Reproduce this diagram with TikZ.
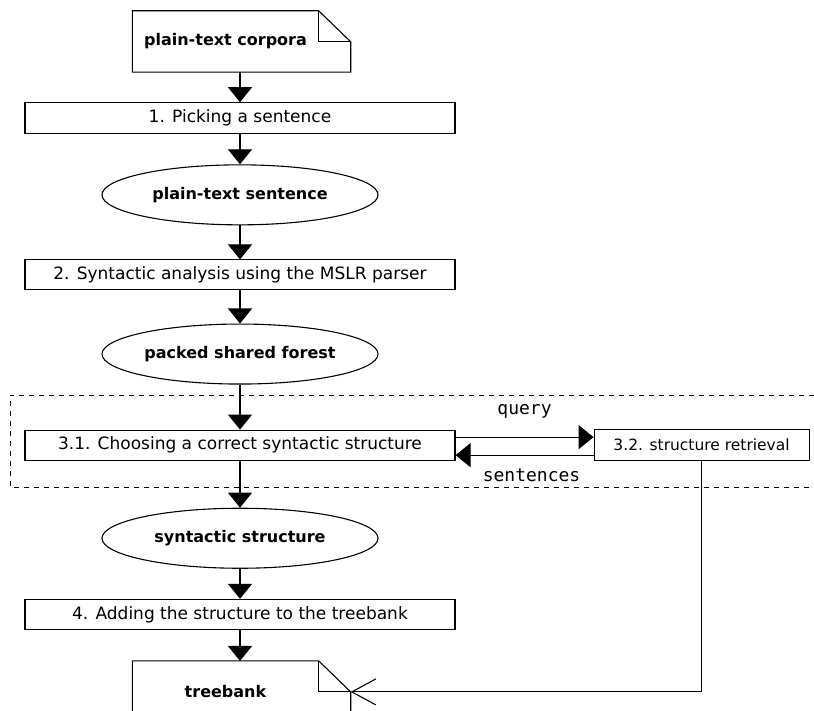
\documentclass[tikz,border=0pt]{standalone}
\usepackage{fontspec}
\setmainfont{DejaVu Sans}
\newfontfamily\monofont{DejaVu Sans Mono}
\usetikzlibrary{shapes, arrows.meta, positioning}

\begin{document}
\begin{tikzpicture}[
        x=1pt, y=-1pt,
        process/.style={rectangle, draw=black, line width=1.1pt, minimum width=430pt, minimum height=30pt, inner sep=0pt, font=\fontsize{17}{20}\selectfont},
        data/.style={ellipse, draw=black, line width=1.1pt, minimum width=276pt, minimum height=60pt, inner sep=0pt, font=\bfseries\fontsize{16}{19}\selectfont},
        docnode/.style={rectangle, minimum width=186pt, minimum height=61pt, inner sep=0pt, font=\bfseries\fontsize{16}{19}\selectfont},
        docline/.style={draw=black, line width=1.1pt, line join=miter},
        boundary/.style={dashed, dash pattern=on 5pt off 5pt, line width=1pt},
        link/.style={-{Triangle[length=15pt, width=24pt]}, line width=1.1pt},
        feed/.style={-{Straight Barb[length=24pt, width=26pt]}, line width=1.1pt},
        labeltext/.style={font=\monofont\fontsize{18}{21}\selectfont}
    ]
    \useasboundingbox (0,0) rectangle (814,711);

    % Nodes
    \node[docnode] (corpora) at (225.5,41.5) {plain-text corpora};
    \node[process, below=30pt of corpora, xshift=14.5pt, minimum height=31pt] (pick) {1. Picking a sentence};
    \node[data, below=30pt of pick] (sentence) {plain-text sentence};
    \node[process, below=34pt of sentence] (parse) {2. Syntactic analysis using the MSLR parser};
    \node[data, below=33pt of parse] (forest) {packed shared forest};
    \node[process, below=45pt of forest] (choose) {3.1. Choosing a correct syntactic structure};
    \node[process, right=138pt of choose, minimum width=215pt, minimum height=31pt, font=\fontsize{15.5}{18}\selectfont] (retrieval) {3.2. structure retrieval};
    \node[data, below=47pt of choose] (structure) {syntactic structure};
    \node[process, below=30pt of structure] (add) {4. Adding the structure to the treebank};
    \node[docnode, below=31pt of add, xshift=-14.5pt] (treebank) {treebank};

    % Document outlines
    \draw[docline] (corpora.north west) -- (corpora.north east) -- ([xshift=32pt, yshift=-31pt]corpora.north east) |- (corpora.south west) -- cycle;
    \draw[docline] (corpora.north east) |- ([xshift=32pt, yshift=-31pt]corpora.north east);
    \coordinate (tbcorner) at ([xshift=32pt, yshift=-31pt]treebank.north east);
    \draw[docline] (treebank.south west) -- (treebank.north west) -- (treebank.north east) -- (tbcorner) -- (tbcorner |- treebank.south);
    \draw[docline] (treebank.north east) |- (tbcorner);

    % Edges
    \draw[link] (corpora.south -| pick.north) -- (pick);
    \draw[link] (pick) -- (sentence);
    \draw[link] (sentence) -- (parse);
    \draw[link] (parse) -- (forest);
    \draw[link] (forest) -- (choose);
    \draw[link] (choose) -- (structure);
    \draw[link] (structure) -- (add);
    \draw[link] (add) -- (add.south |- treebank.north);
    \draw[link] ([yshift=8pt]choose.east) -- node[above=15pt, labeltext] {query} ([yshift=8pt]choose.east -| retrieval.west);
    \draw[link] ([yshift=-10pt]retrieval.west) -- node[below=10pt, xshift=7pt, labeltext] {sentences} ([yshift=-10pt]retrieval.west -| choose.east);
    \draw[feed] (retrieval.south) |- (tbcorner);

    % Step 3 boundary
    \draw[boundary] (814,395) -| (10,487) -- (814,487);

\end{tikzpicture}
\end{document}
